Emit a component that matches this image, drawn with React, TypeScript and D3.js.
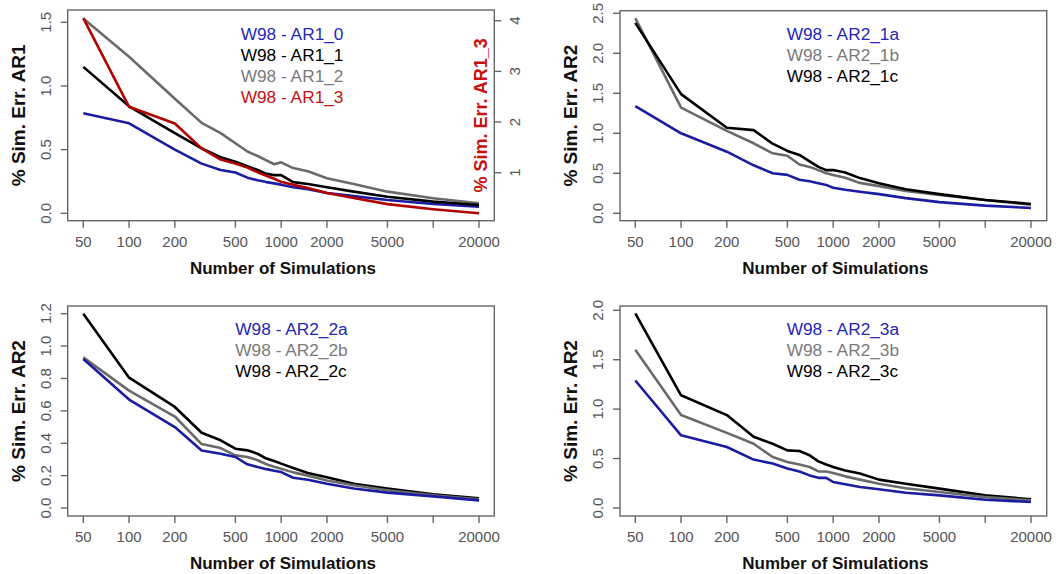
import * as d3 from "d3";
import { useEffect } from "react";

// number of simulations (x values shared by every series)
const sims = [50, 100, 200, 300, 400, 500, 600, 700, 800, 900, 1000, 1200, 1500, 2000, 3000, 5000, 10000, 20000];
const xTicks = [50, 100, 200, 500, 1000, 2000, 5000, 10000, 20000];
const xTickLabels = ["50", "100", "200", "500", "1000", "2000", "5000", "", "20000"];

// panel 1 : AR1
const ar1_0 = [0.785, 0.707, 0.5, 0.39, 0.34, 0.32, 0.28, 0.26, 0.245, 0.235, 0.225, 0.205, 0.19, 0.16, 0.135, 0.105, 0.073, 0.052];
const ar1_1 = [1.15, 0.84, 0.63, 0.51, 0.44, 0.405, 0.37, 0.34, 0.31, 0.3, 0.3, 0.245, 0.23, 0.205, 0.17, 0.13, 0.092, 0.065];
const ar1_2 = [1.53, 1.23, 0.9, 0.71, 0.63, 0.55, 0.485, 0.45, 0.415, 0.385, 0.4, 0.355, 0.33, 0.275, 0.23, 0.17, 0.118, 0.079];
const ar1_3 = [4.05, 2.3, 1.97, 1.48, 1.26, 1.18, 1.1, 1.01, 0.94, 0.88, 0.82, 0.76, 0.7, 0.6, 0.5, 0.38, 0.28, 0.2]; // right axis

// panel 2 : AR2_1
const ar2_1a = [1.34, 1.0, 0.77, 0.6, 0.5, 0.48, 0.42, 0.4, 0.375, 0.355, 0.32, 0.295, 0.27, 0.24, 0.19, 0.14, 0.096, 0.067];
const ar2_1b = [2.44, 1.32, 1.03, 0.875, 0.75, 0.72, 0.61, 0.58, 0.54, 0.5, 0.48, 0.445, 0.38, 0.34, 0.28, 0.23, 0.167, 0.108];
const ar2_1c = [2.38, 1.49, 1.07, 1.04, 0.87, 0.78, 0.73, 0.65, 0.58, 0.54, 0.54, 0.51, 0.44, 0.375, 0.3, 0.24, 0.167, 0.117];

// panel 3 : AR2_2
const ar2_2a = [0.92, 0.67, 0.5, 0.355, 0.335, 0.315, 0.27, 0.253, 0.24, 0.23, 0.222, 0.187, 0.175, 0.15, 0.12, 0.095, 0.072, 0.047];
const ar2_2b = [0.93, 0.725, 0.565, 0.395, 0.37, 0.325, 0.315, 0.295, 0.27, 0.255, 0.243, 0.22, 0.2, 0.17, 0.14, 0.11, 0.078, 0.054];
const ar2_2c = [1.2, 0.805, 0.624, 0.465, 0.418, 0.366, 0.356, 0.335, 0.305, 0.29, 0.274, 0.247, 0.216, 0.19, 0.15, 0.12, 0.084, 0.06];

// panel 4 : AR2_3
const ar2_3a = [1.29, 0.735, 0.617, 0.49, 0.45, 0.4, 0.37, 0.33, 0.305, 0.305, 0.263, 0.24, 0.212, 0.19, 0.155, 0.128, 0.084, 0.06];
const ar2_3b = [1.6, 0.94, 0.76, 0.65, 0.516, 0.465, 0.44, 0.415, 0.37, 0.37, 0.354, 0.32, 0.287, 0.246, 0.2, 0.162, 0.11, 0.078];
const ar2_3c = [1.97, 1.14, 0.94, 0.72, 0.65, 0.583, 0.577, 0.533, 0.472, 0.44, 0.415, 0.38, 0.35, 0.287, 0.246, 0.196, 0.128, 0.088];

const BLUE = "#1c1ca0";
const BLACK = "#000000";
const GRAY = "#6a6a6a";
const RED = "#b00000";
const LEG_BLUE = "#2626b8";
const LEG_GRAY = "#7a7a7a";
const LEG_RED = "#c81010";
const AXIS = "#666666";
const TICKTXT = "#555555";
const FONT = "'Liberation Sans', Arial, sans-serif";

type Series = { name: string; values: number[]; color: string; legColor: string; right?: boolean };

const panels = [
  {
    box: [67.7, 10, 494.3, 220.7],
    xRange: [83.3, 479],
    yDomain: [0, 1.5], yRange: [213.3, 22.3], yTicks: [0, 0.5, 1, 1.5], yFmt: ".1f",
    yLabel: "% Sim. Err. AR1",
    legendX: 240.7, legendY: 39.5,
    right: { domain: [1, 4], range: [172.7, 20.7], ticks: [1, 2, 3, 4], label: "% Sim. Err. AR1_3" },
    series: [
      { name: "W98 - AR1_0", values: ar1_0, color: BLUE, legColor: LEG_BLUE },
      { name: "W98 - AR1_1", values: ar1_1, color: BLACK, legColor: BLACK },
      { name: "W98 - AR1_2", values: ar1_2, color: GRAY, legColor: LEG_GRAY },
      { name: "W98 - AR1_3", values: ar1_3, color: RED, legColor: LEG_RED, right: true },
    ] as Series[],
    order: [2, 0, 1, 3],
  },
  {
    box: [620, 10.7, 1046.7, 220.7],
    xRange: [635.3, 1031],
    yDomain: [0, 2.5], yRange: [213.3, 13.3], yTicks: [0, 0.5, 1, 1.5, 2, 2.5], yFmt: ".1f",
    yLabel: "% Sim. Err. AR2",
    legendX: 786.7, legendY: 39.5,
    series: [
      { name: "W98 - AR2_1a", values: ar2_1a, color: BLUE, legColor: LEG_BLUE },
      { name: "W98 - AR2_1b", values: ar2_1b, color: GRAY, legColor: LEG_GRAY },
      { name: "W98 - AR2_1c", values: ar2_1c, color: BLACK, legColor: BLACK },
    ] as Series[],
    order: [0, 1, 2],
  },
  {
    box: [67.7, 306, 494.3, 516],
    xRange: [83.3, 479],
    yDomain: [0, 1.2], yRange: [508, 313.7], yTicks: [0, 0.2, 0.4, 0.6, 0.8, 1.0, 1.2], yFmt: ".1f",
    yLabel: "% Sim. Err. AR2",
    legendX: 235.3, legendY: 334.5,
    series: [
      { name: "W98 - AR2_2a", values: ar2_2a, color: BLUE, legColor: LEG_BLUE },
      { name: "W98 - AR2_2b", values: ar2_2b, color: GRAY, legColor: LEG_GRAY },
      { name: "W98 - AR2_2c", values: ar2_2c, color: BLACK, legColor: BLACK },
    ] as Series[],
    order: [2, 1, 0],
  },
  {
    box: [620, 306, 1046.7, 516],
    xRange: [635.3, 1031],
    yDomain: [0, 2], yRange: [508, 310.3], yTicks: [0, 0.5, 1, 1.5, 2], yFmt: ".1f",
    yLabel: "% Sim. Err. AR2",
    legendX: 786.7, legendY: 334.5,
    series: [
      { name: "W98 - AR2_3a", values: ar2_3a, color: BLUE, legColor: LEG_BLUE },
      { name: "W98 - AR2_3b", values: ar2_3b, color: GRAY, legColor: LEG_GRAY },
      { name: "W98 - AR2_3c", values: ar2_3c, color: BLACK, legColor: BLACK },
    ] as Series[],
    order: [2, 1, 0],
  },
];

const Panel = ({ p }: { p: (typeof panels)[number] }) => {
  const [x0, y0, x1, y1] = p.box;
  const x = d3.scaleLog().domain([50, 20000]).range(p.xRange);
  const y = d3.scaleLinear().domain(p.yDomain).range(p.yRange);
  const yR = p.right ? d3.scaleLinear().domain(p.right.domain).range(p.right.range) : null;
  const fmt = d3.format(p.yFmt);
  const midY = (y0 + y1) / 2;
  const midX = (x0 + x1) / 2;

  return (
    <g>
      {p.order.map((i) => {
        const s = p.series[i];
        const ys = s.right && yR ? yR : y;
        const line = d3
          .line<number>()
          .x((_, k) => x(sims[k]))
          .y((v) => ys(v));
        return (
          <path key={s.name} d={line(s.values) || ""} fill="none" stroke={s.color} strokeWidth={2.6} strokeLinejoin="round" />
        );
      })}
      <rect x={x0} y={y0} width={x1 - x0} height={y1 - y0} fill="none" stroke={AXIS} strokeWidth={1.4} />
      {/* x axis */}
      {xTicks.map((t, i) => (
        <g key={t}>
          <line x1={x(t)} x2={x(t)} y1={y1} y2={y1 + 7} stroke={AXIS} strokeWidth={1.4} />
          <text x={x(t)} y={y1 + 26} textAnchor="middle" fontSize={15} fill={TICKTXT} fontFamily={FONT}>
            {xTickLabels[i]}
          </text>
        </g>
      ))}
      <text x={midX + 2} y={y1 + 53} textAnchor="middle" fontSize={17} fontWeight="bold" fill="#111" fontFamily={FONT}>
        Number of Simulations
      </text>
      {/* y axis */}
      {p.yTicks.map((t) => (
        <g key={t}>
          <line x1={x0 - 7} x2={x0} y1={y(t)} y2={y(t)} stroke={AXIS} strokeWidth={1.4} />
          <text transform={`translate(${x0 - 17},${y(t)}) rotate(-90)`} textAnchor="middle" fontSize={15} fill={TICKTXT} fontFamily={FONT}>
            {fmt(t)}
          </text>
        </g>
      ))}
      <text transform={`translate(${x0 - 43},${midY}) rotate(-90)`} textAnchor="middle" fontSize={19} fontWeight="bold" fill="#111" fontFamily={FONT}>
        {p.yLabel}
      </text>
      {/* right axis */}
      {p.right && yR && (
        <g>
          {p.right.ticks.map((t) => (
            <g key={t}>
              <line x1={x1} x2={x1 + 7} y1={yR(t)} y2={yR(t)} stroke={AXIS} strokeWidth={1.4} />
              <text transform={`translate(${x1 + 26},${yR(t)}) rotate(-90)`} textAnchor="middle" fontSize={15} fill={TICKTXT} fontFamily={FONT}>
                {t}
              </text>
            </g>
          ))}
          <text transform={`translate(${x1 - 7},${midY}) rotate(-90)`} textAnchor="middle" fontSize={18} fontWeight="bold" fill={LEG_RED} fontFamily={FONT}>
            {p.right.label}
          </text>
        </g>
      )}
      {/* legend */}
      {p.series.map((s, i) => (
        <text key={s.name} x={p.legendX} y={p.legendY + i * 21} fontSize={17.3} fill={s.legColor} fontFamily={FONT}>
          {s.name}
        </text>
      ))}
    </g>
  );
};

export default function App() {
  useEffect(() => {
    document.body.style.margin = "0";
  }, []);
  return (
    <svg width={1060} height={574} style={{ display: "block", background: "#fff" }}>
      {panels.map((p, i) => (
        <Panel key={i} p={p} />
      ))}
    </svg>
  );
}
